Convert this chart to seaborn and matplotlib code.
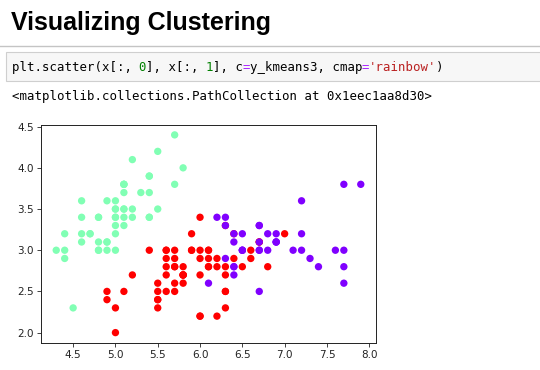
import matplotlib
matplotlib.use("Agg")
import matplotlib.pyplot as plt
import seaborn as sns
import numpy as np
from matplotlib.patches import Rectangle
from matplotlib.lines import Line2D

# ---- data (iris sepal length / width, k-means cluster labels) ----
sepal_length = [
    5.1, 4.9, 4.7, 4.6, 5.0, 5.4, 4.6, 5.0, 4.4, 4.9,
    5.4, 4.8, 4.8, 4.3, 5.8, 5.7, 5.4, 5.1, 5.7, 5.1,
    5.4, 5.1, 4.6, 5.1, 4.8, 5.0, 5.0, 5.2, 5.2, 4.7,
    4.8, 5.4, 5.2, 5.5, 4.9, 5.0, 5.5, 4.9, 4.4, 5.1,
    5.0, 4.5, 4.4, 5.0, 5.1, 4.8, 5.1, 4.6, 5.3, 5.0,
    7.0, 6.4, 6.9, 5.5, 6.5, 5.7, 6.3, 4.9, 6.6, 5.2,
    5.0, 5.9, 6.0, 6.1, 5.6, 6.7, 5.6, 5.8, 6.2, 5.6,
    5.9, 6.1, 6.3, 6.1, 6.4, 6.6, 6.8, 6.7, 6.0, 5.7,
    5.5, 5.5, 5.8, 6.0, 5.4, 6.0, 6.7, 6.3, 5.6, 5.5,
    5.5, 6.1, 5.8, 5.0, 5.6, 5.7, 5.7, 6.2, 5.1, 5.7,
    6.3, 5.8, 7.1, 6.3, 6.5, 7.6, 4.9, 7.3, 6.7, 7.2,
    6.5, 6.4, 6.8, 5.7, 5.8, 6.4, 6.5, 7.7, 7.7, 6.0,
    6.9, 5.6, 7.7, 6.3, 6.7, 7.2, 6.2, 6.1, 6.4, 7.2,
    7.4, 7.9, 6.4, 6.3, 6.1, 7.7, 6.3, 6.4, 6.0, 6.9,
    6.7, 6.9, 5.8, 6.8, 6.7, 6.7, 6.3, 6.5, 6.2, 5.9,
]
sepal_width = [
    3.5, 3.0, 3.2, 3.1, 3.6, 3.9, 3.4, 3.4, 2.9, 3.1,
    3.7, 3.4, 3.0, 3.0, 4.0, 4.4, 3.9, 3.5, 3.8, 3.8,
    3.4, 3.7, 3.6, 3.3, 3.4, 3.0, 3.4, 3.5, 3.4, 3.2,
    3.1, 3.4, 4.1, 4.2, 3.1, 3.2, 3.5, 3.6, 3.0, 3.4,
    3.5, 2.3, 3.2, 3.5, 3.8, 3.0, 3.8, 3.2, 3.7, 3.3,
    3.2, 3.2, 3.1, 2.3, 2.8, 2.8, 3.3, 2.4, 2.9, 2.7,
    2.0, 3.0, 2.2, 2.9, 2.9, 3.1, 3.0, 2.7, 2.2, 2.5,
    3.2, 2.8, 2.5, 2.8, 2.9, 3.0, 2.8, 3.0, 2.9, 2.6,
    2.4, 2.4, 2.7, 2.7, 3.0, 3.4, 3.1, 2.3, 3.0, 2.5,
    2.6, 3.0, 2.6, 2.3, 2.7, 3.0, 2.9, 2.9, 2.5, 2.8,
    3.3, 2.7, 3.0, 2.9, 3.0, 3.0, 2.5, 2.9, 2.5, 3.6,
    3.2, 2.7, 3.0, 2.5, 2.8, 3.2, 3.0, 3.8, 2.6, 2.2,
    3.2, 2.8, 2.8, 2.7, 3.3, 3.2, 2.8, 3.0, 2.8, 3.0,
    2.8, 3.8, 2.8, 2.8, 2.6, 3.0, 3.4, 3.1, 3.0, 3.1,
    3.1, 3.1, 2.7, 3.2, 3.3, 3.0, 2.5, 3.0, 3.4, 3.0,
]
cluster = (
    [1] * 50
    + [2, 2, 0, 2, 2, 2, 2, 2, 2, 2,
       2, 2, 2, 2, 2, 2, 2, 2, 2, 2,
       2, 2, 2, 2, 2, 2, 2, 0, 2, 2,
       2, 2, 2, 2, 2, 2, 2, 2, 2, 2,
       2, 2, 2, 2, 2, 2, 2, 2, 2, 2]
    + [0, 2, 0, 0, 0, 0, 2, 0, 0, 0,
       0, 0, 0, 2, 2, 0, 0, 0, 0, 2,
       0, 2, 0, 2, 0, 0, 2, 2, 0, 0,
       0, 0, 0, 2, 0, 0, 0, 0, 2, 0,
       0, 0, 2, 0, 0, 0, 2, 0, 0, 2]
)

heading = "Visualizing Clustering"
code_parts = [
    ("plt.scatter(x[:, ", "#000000"), ("0", "#008000"), ("], x[:, ", "#000000"),
    ("1", "#008000"), ("], c", "#000000"), ("=", "#aa22ff"),
    ("y_kmeans3, cmap", "#000000"), ("=", "#aa22ff"), ("'rainbow'", "#ba2121"),
    (")", "#000000"),
]
output_text = "<matplotlib.collections.PathCollection at 0x1eec1aa8d30>"
x_ticks = [4.5, 5.0, 5.5, 6.0, 6.5, 7.0, 7.5, 8.0]
y_ticks = [2.0, 2.5, 3.0, 3.5, 4.0, 4.5]

W, H = 540, 370
fig = plt.figure(figsize=(W / 100, H / 100), dpi=100)
fig.patch.set_facecolor("white")


def fx(px):
    return px / W


def fy(py):
    return 1 - py / H


# heading
fig.text(fx(11), fy(30), heading, fontsize=18, fontweight="bold",
         family="Liberation Sans", va="baseline", ha="left", color="#000000")
# separator line
fig.add_artist(Line2D([0, 1], [fy(45.5), fy(45.5)], transform=fig.transFigure,
                      color="#c4c4c4", linewidth=1.0))
# code cell box
fig.add_artist(Rectangle((fx(5.5), fy(81)), fx(560) - fx(5.5), fy(52) - fy(81),
                         transform=fig.transFigure, facecolor="#f7f7f7",
                         edgecolor="#cfcfcf", linewidth=0.8))
char_w = 7.43
mono_size = char_w / 0.602 * 72 / 100
pos = 0
for txt, col in code_parts:
    fig.text(fx(12 + pos * char_w), fy(71), txt, family="DejaVu Sans Mono",
             fontsize=mono_size, color=col, va="baseline", ha="left")
    pos += len(txt)
fig.text(fx(12), fy(100), output_text, family="DejaVu Sans Mono",
         fontsize=mono_size, color="#000000", va="baseline", ha="left")

# scatter axes
ax = fig.add_axes([fx(41), fy(342.5), fx(376) - fx(41), fy(125) - fy(342.5)])
sns.scatterplot(x=sepal_length, y=sepal_width, hue=cluster, palette="rainbow",
                hue_norm=(0, 2), legend=False, s=28, linewidth=0, ax=ax)
ax.set_xticks(x_ticks)
ax.set_yticks(y_ticks)
ax.set_xticklabels([f"{v:.1f}" for v in x_ticks])
ax.set_yticklabels([f"{v:.1f}" for v in y_ticks])
ax.tick_params(labelsize=7.5, length=2.6, width=0.6, pad=2.5, colors="#222222")
for sp in ax.spines.values():
    sp.set_linewidth(0.7)
    sp.set_color("#222222")
ax.set_xlabel("")
ax.set_ylabel("")

fig.savefig("out.png", dpi=100, facecolor="white")
